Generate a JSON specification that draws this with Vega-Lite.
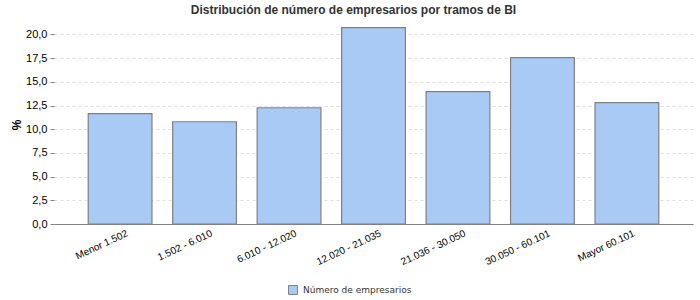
{
  "$schema": "https://vega.github.io/schema/vega-lite/v6.json",
  "width": 639,
  "height": 199,
  "autosize": {"type": "none"},
  "padding": {"left": 54, "top": 25, "right": 7, "bottom": 76},
  "title": {
    "text": "Distribución de número de empresarios por tramos de BI",
    "font": "Liberation Sans",
    "fontSize": 12,
    "fontWeight": "bold",
    "color": "#333333",
    "anchor": "middle",
    "dx": -20,
    "offset": 8
  },
  "config": {
    "view": {"stroke": null},
    "locale": {"number": {"decimal": ",", "thousands": ".", "grouping": [3], "currency": ["", " €"]}},
    "font": "Liberation Sans"
  },
  "data": {
    "values": [
      {"tramo": "Menor 1.502", "valor": 11.64, "serie": "Número de empresarios"},
      {"tramo": "1.502 - 6.010", "valor": 10.79, "serie": "Número de empresarios"},
      {"tramo": "6.010 - 12.020", "valor": 12.27, "serie": "Número de empresarios"},
      {"tramo": "12.020 - 21.035", "valor": 20.72, "serie": "Número de empresarios"},
      {"tramo": "21.036 - 30.050", "valor": 13.96, "serie": "Número de empresarios"},
      {"tramo": "30.050 - 60.101", "valor": 17.55, "serie": "Número de empresarios"},
      {"tramo": "Mayor 60.101", "valor": 12.8, "serie": "Número de empresarios"}
    ]
  },
  "mark": {"type": "bar", "stroke": "#808080", "strokeWidth": 1.2},
  "encoding": {
    "x": {
      "field": "tramo",
      "type": "nominal",
      "sort": null,
      "scale": {"paddingInner": 0.245, "paddingOuter": 0.405},
      "axis": {
        "title": null,
        "labelAngle": -25,
        "labelAlign": "right",
        "labelBaseline": "top",
        "labelFontSize": 10,
        "labelColor": "#000000",
        "labelPadding": 4,
        "labelOffset": 5,
        "ticks": false,
        "domainColor": "#808080",
        "domainWidth": 1.2,
        "grid": false
      }
    },
    "y": {
      "field": "valor",
      "type": "quantitative",
      "scale": {"domain": [0, 21], "nice": false},
      "axis": {
        "title": "%",
        "titleFontSize": 12,
        "titleFontWeight": "bold",
        "titleColor": "#000000",
        "titlePadding": 2,
        "values": [0, 2.5, 5, 7.5, 10, 12.5, 15, 17.5, 20],
        "format": ".1f",
        "labelFontSize": 11,
        "labelColor": "#000000",
        "labelPadding": 3,
        "domain": false,
        "tickColor": "#808080",
        "tickSize": 4,
        "grid": true,
        "gridColor": "#dddddd",
        "gridDash": [3, 3]
      }
    },
    "fill": {
      "field": "serie",
      "type": "nominal",
      "scale": {"domain": ["Número de empresarios"], "range": ["#a8caf5"]},
      "legend": {
        "title": null,
        "orient": "none",
        "legendX": 234,
        "legendY": 260,
        "symbolType": "square",
        "symbolSize": 80,
        "symbolStrokeColor": "#808080",
        "symbolStrokeWidth": 1,
        "labelFont": "DejaVu Sans",
        "labelFontSize": 9,
        "labelColor": "#333333",
        "labelOffset": 5
      }
    }
  }
}
